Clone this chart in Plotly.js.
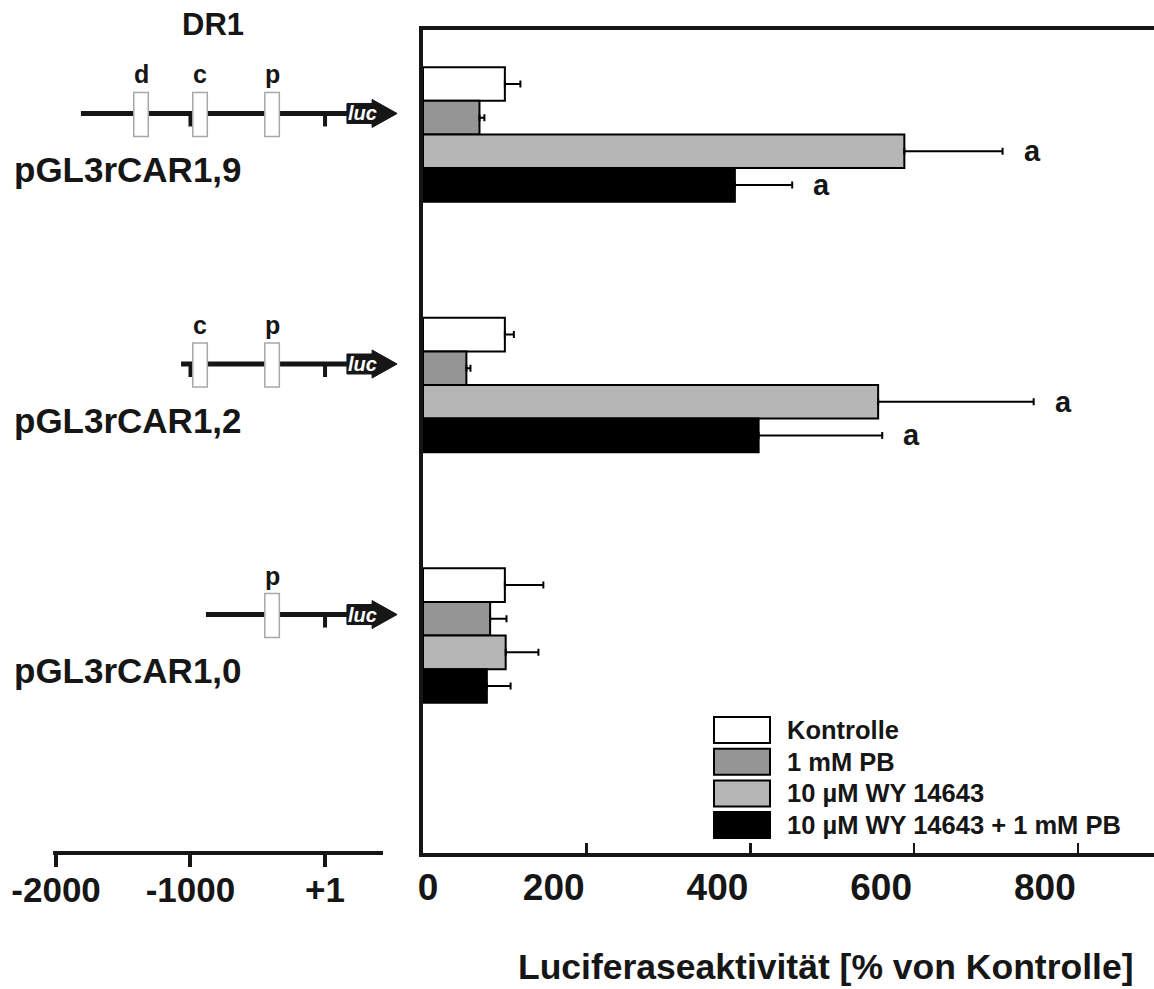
<!DOCTYPE html>
<html><head><meta charset="utf-8">
<script src="https://cdn.plot.ly/plotly-3.0.1.min.js"></script>
<style>html,body{margin:0;padding:0;background:#fff}</style>
</head><body><div id="chart" style="width:1154px;height:989px"></div>
<script>
// ---------------- data ----------------
const constructs = ['pGL3rCAR1,9', 'pGL3rCAR1,2', 'pGL3rCAR1,0'];
const seriesNames = ['Kontrolle', '1 mM PB', '10 µM WY 14643', '10 µM WY 14643 + 1 mM PB'];
const seriesColors = ['#ffffff', '#959595', '#b6b6b6', '#000000'];
const kontrolle = [100, 100, 100];
const kontrolleErr = [19, 11, 47];
const pb = [69, 53, 82];
const pbErr = [6, 5, 20];
const wy = [588, 556, 101];
const wyErr = [120, 190, 40];
const wyPb = [381, 410, 78];
const wyPbErr = [70, 151, 29];
const kontrolleSig = ['', '', ''];
const pbSig = ['', '', ''];
const wySig = ['a', 'a', ''];
const wyPbSig = ['a', 'a', ''];
const xTickVals = [0, 200, 400, 600, 800];
const xTickText = ['0', '200', '400', '600', '800'];
const xTitle = 'Luciferaseaktivität [% von Kontrolle]';

// promoter map (bp relative to transcription start)
const mapTitle = 'DR1';
const constructStart = [-1815, -1070, -885];
const elementNames = ['d', 'c', 'p'];
const elementPos = [-1368, -929, -393];
const constructElements = [['d', 'c', 'p'], ['c', 'p'], ['p']];
const constructTicks = [[-1000, 1], [-1000, 1], [1]];
const mapAxisVals = [-2000, -1000, 1];
const mapAxisText = ['-2000', '-1000', '+1'];
const mapAxisExtent = [-2022, 432];
const reporterName = 'luc';
const reporterStart = 164;
const reporterHead = 351;
const reporterTip = 537;

// ---------------- layout geometry ----------------
const W = 1154, H = 989, mT = 30, mB = 136;
const plotH = H - mT - mB;
const yRange = [2.868, -0.417];
const uPerPx = (yRange[0] - yRange[1]) / plotH;
const pxX = p => p / W;
const pxY = p => (H - mB - p) / plotH;
const FONT = 'Liberation Sans, Arial, sans-serif';
const INK = '#161616';

const series = [kontrolle, pb, wy, wyPb];
const errs = [kontrolleErr, pbErr, wyErr, wyPbErr];
const sigs = [kontrolleSig, pbSig, wySig, wyPbSig];
const bargap = 0.4634;
const barW = (1 - bargap) / series.length;

const traces = series.map((vals, i) => ({
  type: 'bar', orientation: 'h', x: vals, y: constructs, name: seriesNames[i],
  xaxis: 'x', yaxis: 'y', showlegend: false, hoverinfo: 'x',
  marker: {color: seriesColors[i], line: {color: '#000', width: 2}},
  error_x: {type: 'data', symmetric: false, array: errs[i], arrayminus: vals.map(() => 0),
            color: '#000', thickness: 2, width: 3.5}
}));
// carrier (draws nothing) so that the label axis x3 is rendered
traces.push({type: 'scatter', mode: 'none', x: kontrolle, y: constructs, xaxis: 'x3', yaxis: 'y',
             showlegend: false, hoverinfo: 'skip'});

const shapes = [];
const annotations = [];

// significance letters
series.forEach((vals, i) => {
  vals.forEach((v, r) => {
    if (!sigs[i][r]) return;
    annotations.push({
      xref: 'x', yref: 'y', x: v + errs[i][r], y: r + (i - (series.length - 1) / 2) * barW,
      text: sigs[i][r], showarrow: false, xanchor: 'left', yanchor: 'middle', xshift: 19,
      font: {family: FONT, size: 29, weight: 'bold', color: INK}
    });
  });
});

// promoter map
const lineOff = -21 * uPerPx;
constructs.forEach((name, r) => {
  const yl = r + lineOff;
  shapes.push({type: 'line', xref: 'x2', yref: 'y2', x0: constructStart[r], x1: reporterStart,
               y0: yl, y1: yl, line: {color: INK, width: 5}});
  constructTicks[r].forEach(t => {
    shapes.push({type: 'line', xref: 'x2', yref: 'y2', x0: t, x1: t,
                 y0: yl, y1: yl + 13 * uPerPx, line: {color: INK, width: 4}});
  });
  constructElements[r].forEach(el => {
    const pos = elementPos[elementNames.indexOf(el)];
    shapes.push({type: 'rect', xref: 'x2', yref: 'y2', x0: pos - 54, x1: pos + 54,
                 y0: yl - 21 * uPerPx, y1: yl + 23 * uPerPx,
                 fillcolor: '#ffffff', line: {color: '#a8a8a8', width: 1.5}});
    annotations.push({xref: 'x2', yref: 'y2', x: pos, y: yl - 39 * uPerPx, text: el,
                      showarrow: false, xanchor: 'center', yanchor: 'middle',
                      font: {family: FONT, size: 25, weight: 'bold', color: INK}});
  });
  const a = 10 * uPerPx, b = 14 * uPerPx;
  shapes.push({type: 'path', xref: 'x2', yref: 'y2', fillcolor: INK, line: {color: INK, width: 1},
    path: `M${reporterStart},${yl - a} L${reporterHead},${yl - a} L${reporterHead},${yl - b} ` +
          `L${reporterTip},${yl} L${reporterHead},${yl + b} L${reporterHead},${yl + a} ` +
          `L${reporterStart},${yl + a} Z`});
  annotations.push({xref: 'x2', yref: 'y2', x: reporterStart + 0.3 * (reporterTip - reporterStart),
                    y: yl, text: '<i>' + reporterName + '</i>', showarrow: false,
                    xanchor: 'center', yanchor: 'middle',
                    font: {family: FONT, size: 20, weight: 'bold', color: '#ffffff'}});
  annotations.push({xref: 'paper', yref: 'y2', x: pxX(12), y: yl + 56 * uPerPx, text: name,
                    showarrow: false, xanchor: 'left', yanchor: 'middle',
                    font: {family: FONT, size: 35, weight: 'bold', color: INK}});
});
// map axis baseline
shapes.push({type: 'line', xref: 'x2', yref: 'paper', x0: mapAxisExtent[0], x1: mapAxisExtent[1],
             y0: 0, y1: 0, line: {color: INK, width: 4}});
annotations.push({xref: 'x2', yref: 'paper', x: -833, y: pxY(25), text: mapTitle, showarrow: false,
                  xanchor: 'center', yanchor: 'middle',
                  font: {family: FONT, size: 31, weight: 'bold', color: INK}});

// x title
annotations.push({xref: 'paper', yref: 'paper', x: pxX(825), y: pxY(967), text: xTitle,
                  showarrow: false, xanchor: 'center', yanchor: 'middle',
                  font: {family: FONT, size: 35.5, weight: 'bold', color: INK}});

// legend (drawn)
seriesNames.forEach((nm, i) => {
  const top = 717 + i * 31.7;
  shapes.push({type: 'rect', xref: 'paper', yref: 'paper', x0: pxX(714), x1: pxX(770),
               y0: pxY(top), y1: pxY(top + 26), fillcolor: seriesColors[i],
               line: {color: '#000', width: 2}});
  annotations.push({xref: 'paper', yref: 'paper', x: pxX(785), y: pxY(top + 13), text: nm,
                    showarrow: false, xanchor: 'left', yanchor: 'middle',
                    font: {family: FONT, size: 25.5, weight: 'bold', color: INK}});
});

const xRange = [0, 893];
const tickFontR = {family: FONT, size: 37, weight: 'bold', color: INK};
const layout = {
  width: W, height: H,
  margin: {l: 0, r: 0, t: mT, b: mB, pad: 0},
  paper_bgcolor: '#fff', plot_bgcolor: 'rgba(0,0,0,0)',
  barmode: 'group', bargap: bargap, bargroupgap: 0,
  showlegend: false,
  font: {family: FONT, color: INK},
  xaxis: {domain: [pxX(423), 1], range: xRange, anchor: 'y',
          showline: true, linewidth: 4, linecolor: INK, mirror: true,
          ticks: 'inside', ticklen: 10, tickwidth: 2.5, tickcolor: INK,
          tickvals: xTickVals, ticktext: xTickVals.map((v, i) => i === 0 ? xTickText[i] : ''),
          showgrid: false, zeroline: false, ticklabelstandoff: -1, ticklabelshift: 5,
          tickfont: tickFontR},
  xaxis3: {overlaying: 'x', anchor: 'y', range: xRange, side: 'bottom', visible: true,
           tickvals: xTickVals.slice(1), ticktext: xTickText.slice(1),
           ticks: '', showline: false, showgrid: false, zeroline: false,
           ticklabelshift: -33, ticklabelstandoff: 9,
           tickfont: tickFontR},
  yaxis: {domain: [0, 1], type: 'category', categoryarray: constructs, range: yRange,
          anchor: 'x', showline: true, linewidth: 4, linecolor: INK, mirror: false,
          ticks: '', showticklabels: false, showgrid: false, zeroline: false},
  xaxis2: {domain: [0, pxX(410)], range: [-2417, 633], anchor: 'y2',
           tickvals: mapAxisVals, ticktext: mapAxisText,
           ticks: 'outside', ticklen: 13, tickwidth: 4, tickcolor: INK,
           showline: false, showgrid: false, zeroline: false, ticklabelstandoff: -7,
           tickfont: {family: FONT, size: 35, weight: 'bold', color: INK}},
  yaxis2: {domain: [0, 1], range: yRange, anchor: 'x2', visible: false,
           showgrid: false, zeroline: false},
  shapes: shapes,
  annotations: annotations
};

Plotly.newPlot('chart', traces, layout, {staticPlot: true, displayModeBar: false});
</script>
</body></html>
